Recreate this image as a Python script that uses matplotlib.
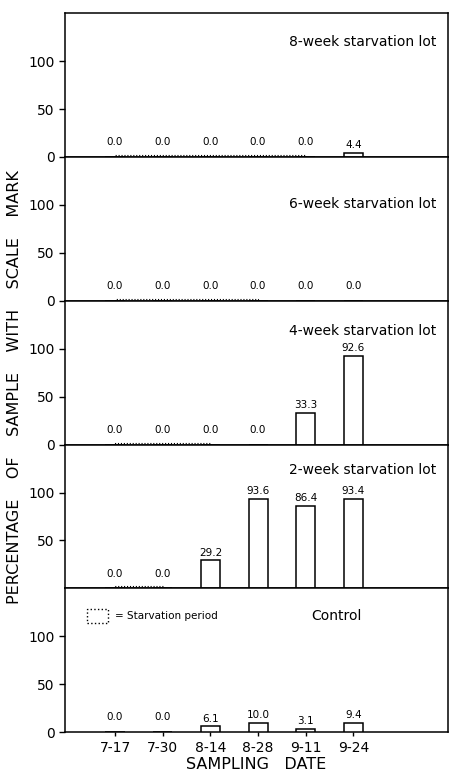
import matplotlib
matplotlib.use('Agg')
import matplotlib.pyplot as plt
from matplotlib.patches import Rectangle

dates = ['7-17', '7-30', '8-14', '8-28', '9-11', '9-24']

lot_names = ['8-week starvation lot', '6-week starvation lot', '4-week starvation lot',
             '2-week starvation lot', 'Control']
week8 = [0.0, 0.0, 0.0, 0.0, 0.0, 4.4]
week6 = [0.0, 0.0, 0.0, 0.0, 0.0, 0.0]
week4 = [0.0, 0.0, 0.0, 0.0, 33.3, 92.6]
week2 = [0.0, 0.0, 29.2, 93.6, 86.4, 93.4]
control = [0.0, 0.0, 6.1, 10.0, 3.1, 9.4]
# index of the sampling date where the starvation period ends (None = no starvation)
starve_end = [4, 3, 2, 1, None]

series = [week8, week6, week4, week2, control]

plt.rcParams['font.family'] = ['DejaVu Sans']
plt.rcParams['axes.linewidth'] = 1.1

fig, axes = plt.subplots(5, 1, figsize=(4.51, 7.74), dpi=100, sharex=True)
fig.subplots_adjust(left=0.144, right=0.993, bottom=0.054, top=0.983, hspace=0)

x = list(range(len(dates)))
for i, ax in enumerate(axes):
    vals = series[i]
    ax.bar(x, vals, width=0.4, color='white', edgecolor='black', linewidth=1.1, zorder=3)
    for xi, v in zip(x, vals):
        off = 2 if v > 0 else 7
        ax.annotate('{:.1f}'.format(v), (xi, v), xytext=(0, off), textcoords='offset points',
                    ha='center', va='bottom', fontsize=7.5)
    if starve_end[i] is not None:
        ax.add_patch(Rectangle((0, 0), starve_end[i], 2.0, fill=False, edgecolor='black',
                               linestyle=':', linewidth=0.8, zorder=2))
    ax.set_ylim(0, 150)
    ax.set_xlim(-1.05, 6.98)
    if i == 3:
        ax.set_yticks([50, 100])
    else:
        ax.set_yticks([0, 50, 100])
    ax.set_yticklabels([str(t) for t in ax.get_yticks().astype(int)])
    ax.tick_params(axis='y', direction='out', length=4, width=1, labelsize=10)
    ax.tick_params(axis='x', direction='out', length=3, width=1, labelsize=10)

# panel titles
title_y = [120, 101, 118, 124]
for i in range(4):
    axes[i].text(6.73, title_y[i], lot_names[i], ha='right', va='center', fontsize=10)
axes[4].text(0.71, 0.81, lot_names[4], transform=axes[4].transAxes, ha='center', va='center',
             fontsize=10)

# legend box for starvation period
axes[4].add_patch(Rectangle((0.057, 0.757), 0.055, 0.10, transform=axes[4].transAxes,
                            fill=False, edgecolor='black', linestyle=':', linewidth=1.0))
axes[4].text(0.13, 0.807, '= Starvation period', transform=axes[4].transAxes,
             ha='left', va='center', fontsize=7.5)

axes[4].set_xticks(x)
axes[4].set_xticklabels(dates)
axes[4].set_xlabel('SAMPLING   DATE', fontsize=11.5, labelpad=1)

fig.text(0.032, 0.50, 'PERCENTAGE    OF    SAMPLE    WITH    SCALE    MARK', rotation=90,
         ha='center', va='center', fontsize=11.5)

plt.savefig('out.png', dpi=100)
